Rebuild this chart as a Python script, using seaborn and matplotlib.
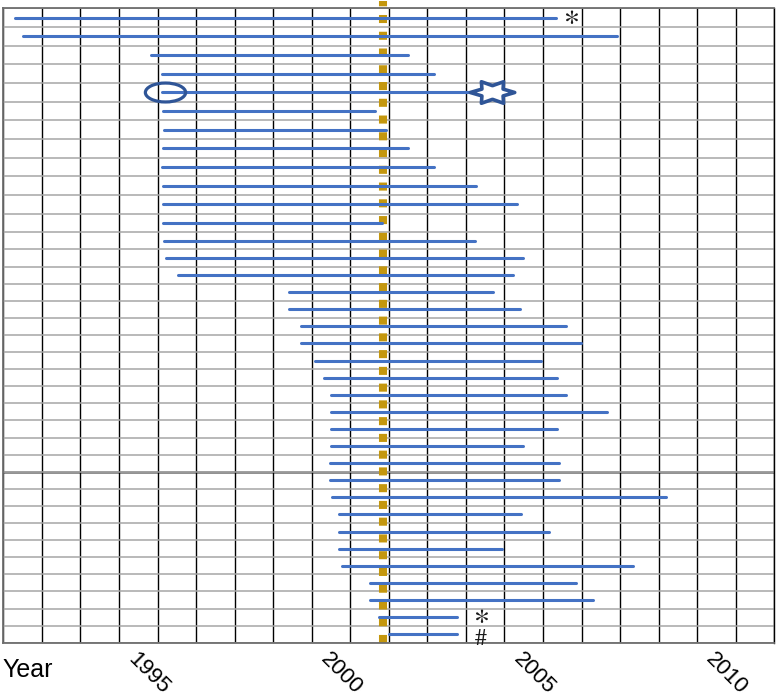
import numpy as np
import pandas as pd
import matplotlib
matplotlib.use('Agg')
import matplotlib.pyplot as plt
from matplotlib.path import Path
from matplotlib.transforms import Affine2D
import seaborn as sns

# start and end year of every row, top to bottom
start_year = [1991.80, 1992.02, 1995.33, 1995.62, 1995.62, 1995.65, 1995.68, 1995.65,
              1995.62, 1995.65, 1995.65, 1995.65, 1995.67, 1995.72, 1996.04, 1998.92,
              1998.92, 1999.22, 1999.22, 1999.59, 1999.83, 2000.00, 2000.00, 2000.00,
              2000.00, 1999.97, 1999.97, 2000.02, 2000.22, 2000.22, 2000.22, 2000.28,
              2001.01, 2001.01, 2001.25, 2001.51]
end_year = [2005.84, 2007.41, 2002.00, 2002.68, 2004.05, 2001.14, 2001.43, 2002.01,
            2002.68, 2003.75, 2004.82, 2001.32, 2003.74, 2004.99, 2004.71, 2004.21,
            2004.90, 2006.10, 2006.49, 2005.44, 2005.87, 2006.10, 2007.15, 2005.87,
            2004.99, 2005.92, 2005.92, 2008.69, 2004.92, 2005.66, 2004.43, 2007.84,
            2006.36, 2006.79, 2003.26, 2003.28]

ref_year = 2001.35          # dotted reference line
year_ticks = [1995, 2000, 2005, 2010]
first_year, last_year = 1992, 2011

# special marks: (row, year)
circle_mark = (4, 1995.69)
star_mark = (4, 2004.19)
text_marks = [(0, 2006.23, r'$\ast$'), (34, 2003.89, r'$\ast$'), (35, 2003.88, r'$\#$')]

n_rows = len(start_year)
rows = list(range(n_rows))

# long table for seaborn: two points per row
seg = pd.DataFrame({
    'row': rows + rows,
    'year': start_year + end_year,
})

plt.rcParams['font.family'] = ['Liberation Sans', 'DejaVu Sans']
plt.rcParams['mathtext.fontset'] = 'stix'

fig = plt.figure(figsize=(7.78, 7.0), dpi=100)
ax = fig.add_axes([3.3 / 778, 1 - 642.7 / 700, 771 / 778, 634.4 / 700])

# upper rows are a bit taller than the lower ones
knots_in = [-0.5, 11.5, n_rows - 0.5]
knots_out = [0.0, 224.0, 634.4]


def fwd(v):
    return np.interp(v, knots_in, knots_out, left=-1e9, right=1e9)


def inv(v):
    return np.interp(v, knots_out, knots_in)


ax.set_yscale('function', functions=(fwd, inv))

sns.lineplot(data=seg, x='year', y='row', units='row', estimator=None,
             color='#4472C4', linewidth=2.2, solid_capstyle='round', ax=ax,
             legend=False, zorder=3)

ax.axvline(ref_year, ymin=0, ymax=1.012, color='#C4970E', linewidth=5.8,
           linestyle=(0, (1, 1.08)), clip_on=False, zorder=2)

# circle and star
ell = Path.unit_circle().transformed(Affine2D().scale(1, 0.47))
ang = np.deg2rad(np.arange(0, 360, 30))
rad = np.where(np.arange(12) % 2 == 0, 1.0, 0.55)
star_verts = np.column_stack([rad * np.cos(ang), rad * np.sin(ang) * 0.56])
star = Path(np.vstack([star_verts, star_verts[:1]]), closed=True)

ax.plot(circle_mark[1], circle_mark[0], marker=ell, markersize=29,
        markerfacecolor='none', markeredgecolor='#2F5597', markeredgewidth=2.3,
        linestyle='none', zorder=4)
ax.plot(star_mark[1], star_mark[0], marker=star, markersize=32,
        markerfacecolor='white', markeredgecolor='#2F5597', markeredgewidth=2.6,
        linestyle='none', zorder=4)

for r, yr, s in text_marks:
    size = 22 if 'ast' in s else 17
    dy = 2 if 'ast' in s else -5
    ax.annotate(s, (yr, r), xytext=(0, dy), textcoords='offset pixels',
                ha='center', va='center', fontsize=size,
                color='#1a1a1a', zorder=5)

ax.set_xlim(first_year - 0.5, last_year + 0.5)
ax.set_ylim(n_rows - 0.5, -0.5)

# grid on the boundaries
ax.set_xticks(np.arange(first_year - 0.5, last_year + 1), minor=True)
ax.set_yticks(np.arange(-0.5, n_rows), minor=True)
ax.set_yticks([])
ax.grid(False)
ax.grid(which='minor', axis='x', color='black', linewidth=1.0)
ax.grid(which='minor', axis='y', color='#A6A6A6', linewidth=1.1)
ax.axhline(25.5, color='#6E6E6E', linewidth=1.8, zorder=1)
ax.tick_params(which='both', length=0)
ax.set_ylabel('')
ax.set_xlabel('')

for side in ['top', 'bottom', 'left']:
    ax.spines[side].set_color('#6E6E6E')
    ax.spines[side].set_linewidth(1.3)
ax.spines['right'].set_color('black')
ax.spines['right'].set_linewidth(1.0)

ax.set_xticks(year_ticks)
ax.set_xticklabels([str(y) for y in year_ticks], fontsize=16, rotation=-45,
                   ha='left', va='top', rotation_mode='anchor')
ax.tick_params(axis='x', which='major', pad=4)

fig.text(2.7 / 778, 1 - 658 / 700, 'Year', ha='left', va='top', fontsize=18)

fig.savefig('out.png', dpi=100)
